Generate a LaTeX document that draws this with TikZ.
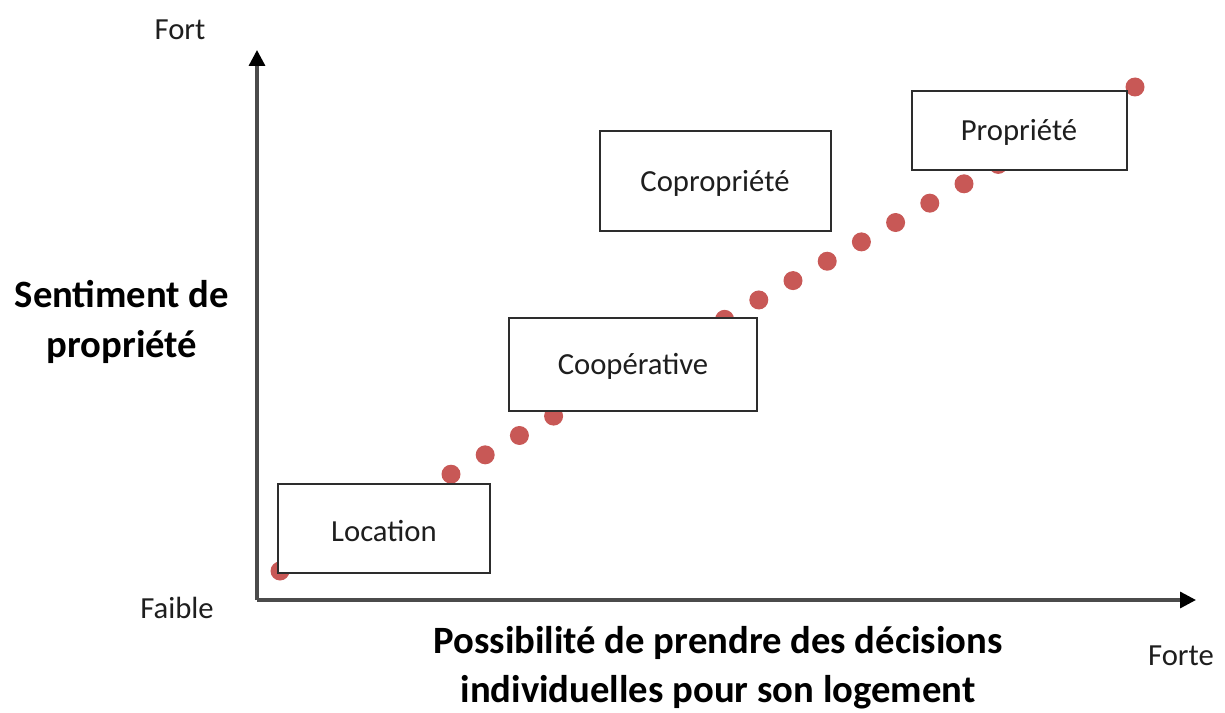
\documentclass[tikz,border=0pt]{standalone}
\usepackage{fontspec}
\setmainfont{Carlito}
\usetikzlibrary{arrows.meta}
\definecolor{dotred}{RGB}{200,88,86}
\definecolor{axisgray}{RGB}{75,75,75}
\definecolor{boxgray}{RGB}{45,45,45}
\definecolor{txt}{RGB}{30,30,30}
\tikzset{
  axisline/.style={draw=axisgray, line width=2.5pt, -{Triangle[length=12pt,width=12pt,fill=black,color=black]}},
  reglabel/.style={text=txt, font=\fontsize{23}{28}\selectfont, inner sep=0pt},
  boldlabel/.style={text=black, font=\fontsize{29}{37}\selectfont\bfseries, inner sep=0pt, align=center},
  dotmark/.style={fill=dotred, draw=none},
  boxframe/.style={draw=boxgray, line width=2.1pt, fill=white}
}
\begin{document}
\begin{tikzpicture}[x=0.75pt, y=-0.75pt]
\useasboundingbox (0,0) rectangle (1225,713);
% axes
\coordinate (O) at (257,600);
\coordinate (Ytop) at (257,50);
\coordinate (Xend) at (1196,600);
\draw[axisline] (O) -- (Ytop);
\draw[axisline] (O) -- (Xend);
% dots
\foreach \i in {0,...,25} {
  \fill[dotmark] ({280+34.2*\i},{571-19.36*\i}) circle[radius=9.5];
}
% boxes
\draw[boxframe] (278,484) rectangle (490,573);
\node[reglabel] (loc) at (384,531) {Location};
\draw[boxframe] (509,318) rectangle (757,411);
\node[reglabel] (coop) at (633,366) {Coopérative};
\draw[boxframe] (600,131) rectangle (831,231);
\node[reglabel] (copro) at (715,183) {Copropriété};
\draw[boxframe] (912,91) rectangle (1127,170);
\node[reglabel] (prop) at (1019,132) {Propriété};
% axis labels
\node[reglabel] (fort) at (180,30) {Fort};
\node[reglabel] (faible) at (177,608) {Faible};
\node[reglabel] (forte) at (1181,656) {Forte};
\node[boldlabel] (ylab) at (122,322) {Sentiment de\\propriété};
\node[boldlabel] (xlab) at (718,668) {Possibilité de prendre des décisions\\individuelles pour son logement};
\end{tikzpicture}
\end{document}
